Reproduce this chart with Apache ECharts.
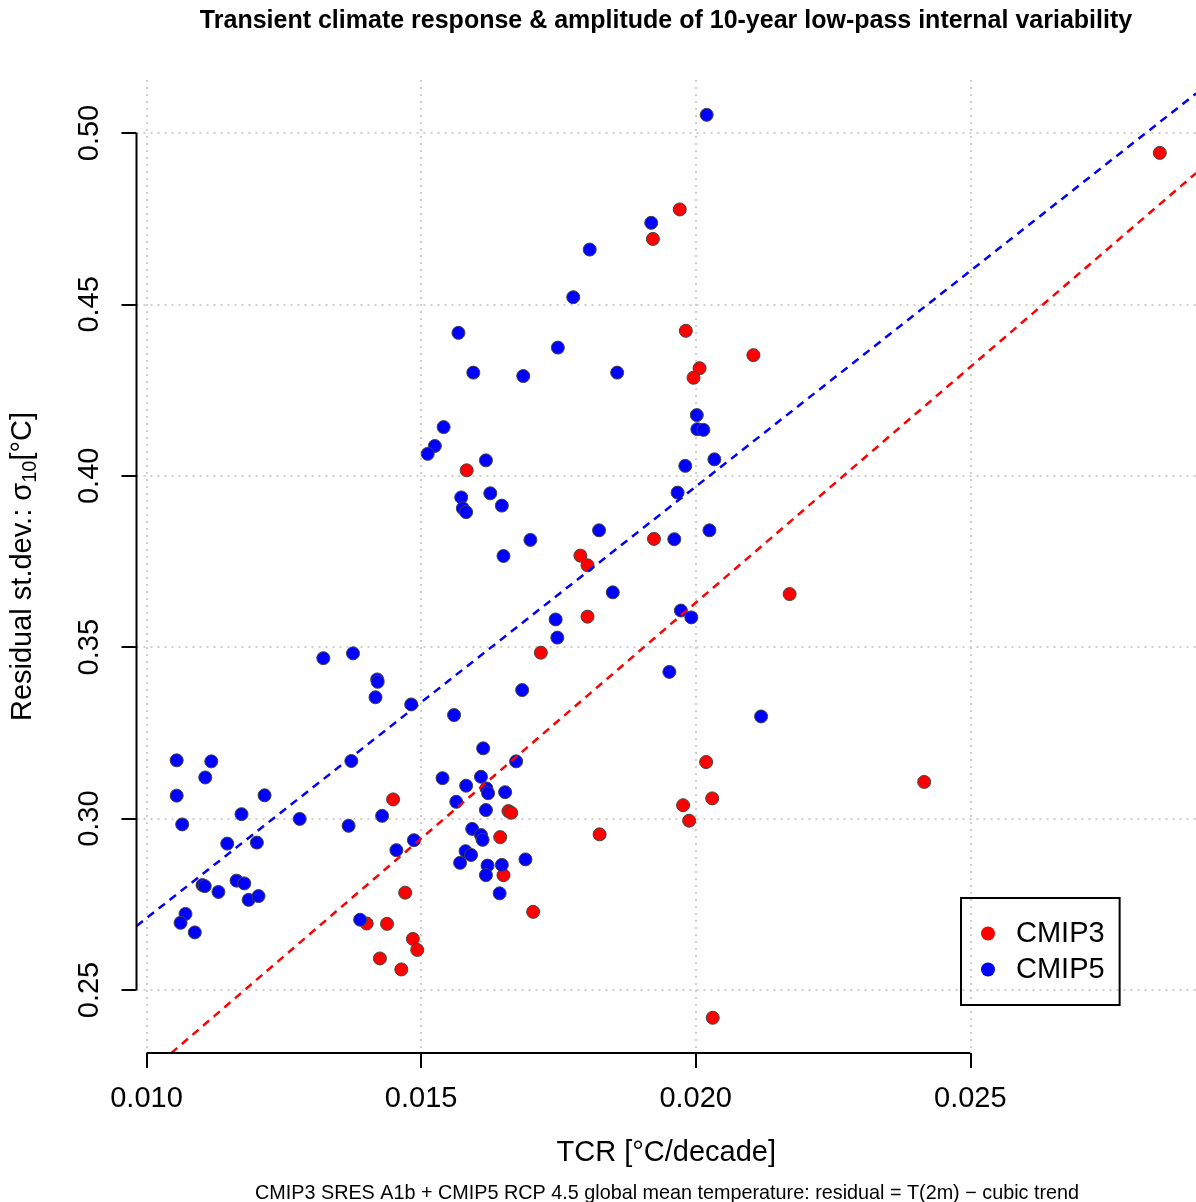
<!DOCTYPE html>
<html>
<head>
<meta charset="utf-8">
<script src="https://cdn.jsdelivr.net/npm/echarts@6/dist/echarts.min.js"></script>
<style>
  html, body { margin: 0; padding: 0; background: #fff; }
  #main { width: 1196px; height: 1202px; }
</style>
</head>
<body>
<div id="main"></div>
<script>
// visible plot window (data units)
const X_MIN = 0.009818, X_MAX = 0.029109;
const Y_MIN = 0.231622, Y_MAX = 0.515461;

const xTicks = [0.010, 0.015, 0.020, 0.025];
const yTicks = [0.25, 0.30, 0.35, 0.40, 0.45, 0.50];

// [TCR, sigma10]
const cmip3 = [
  [0.02845, 0.4942], [0.01971, 0.4777], [0.01922, 0.4691], [0.01982, 0.4423],
  [0.02105, 0.4352], [0.02007, 0.4314], [0.01996, 0.4286], [0.01583, 0.4016],
  [0.01924, 0.3816], [0.01790, 0.3767], [0.01803, 0.3739], [0.02171, 0.3655],
  [0.01803, 0.3589], [0.01718, 0.3484], [0.02019, 0.3165], [0.02030, 0.3059],
  [0.01977, 0.3039], [0.01988, 0.2994], [0.01825, 0.2954], [0.02031, 0.2419],
  [0.02416, 0.3107], [0.01449, 0.3056], [0.01659, 0.3022], [0.01664, 0.3017],
  [0.01644, 0.2946], [0.01650, 0.2835], [0.01471, 0.2784], [0.01704, 0.2728],
  [0.01401, 0.2694], [0.01438, 0.2693], [0.01485, 0.2649], [0.01493, 0.2617],
  [0.01425, 0.2592], [0.01464, 0.2560]
];

const cmip5 = [
  [0.02020, 0.5053], [0.01919, 0.4738], [0.01807, 0.4660], [0.01777, 0.4521],
  [0.01568, 0.4417], [0.01749, 0.4374], [0.01595, 0.4301], [0.01686, 0.4291],
  [0.01857, 0.4301], [0.02002, 0.4177], [0.02003, 0.4136], [0.02014, 0.4134],
  [0.01541, 0.4142], [0.01525, 0.4087], [0.01512, 0.4064], [0.01618, 0.4045],
  [0.02034, 0.4048], [0.01981, 0.4029], [0.01573, 0.3937], [0.01576, 0.3905],
  [0.01582, 0.3894], [0.01626, 0.3949], [0.01647, 0.3913], [0.01967, 0.3951],
  [0.01824, 0.3841], [0.01699, 0.3813], [0.01961, 0.3815], [0.02025, 0.3841],
  [0.01650, 0.3766], [0.01849, 0.3660], [0.01973, 0.3607], [0.01992, 0.3587],
  [0.01745, 0.3581], [0.01748, 0.3528], [0.01952, 0.3428], [0.01322, 0.3468],
  [0.01376, 0.3482], [0.01420, 0.3406], [0.01421, 0.3399], [0.01417, 0.3354],
  [0.01482, 0.3333], [0.01684, 0.3375], [0.01560, 0.3302], [0.02119, 0.3298],
  [0.01055, 0.3170], [0.01118, 0.3167], [0.01107, 0.3120], [0.01055, 0.3067],
  [0.01215, 0.3068], [0.01173, 0.3013], [0.01065, 0.2983], [0.01279, 0.2999],
  [0.01373, 0.3168], [0.01368, 0.2979], [0.01429, 0.3008], [0.01539, 0.3118],
  [0.01147, 0.2927], [0.01201, 0.2930], [0.01102, 0.2806], [0.01106, 0.2803],
  [0.01131, 0.2786], [0.01164, 0.2819], [0.01178, 0.2811], [0.01186, 0.2763],
  [0.01204, 0.2774], [0.01071, 0.2722], [0.01062, 0.2696], [0.01088, 0.2668],
  [0.01455, 0.2908], [0.01487, 0.2937], [0.01389, 0.2705], [0.01613, 0.3205],
  [0.01673, 0.3167], [0.01609, 0.3122], [0.01582, 0.3096], [0.01619, 0.3088],
  [0.01622, 0.3074], [0.01653, 0.3077], [0.01564, 0.3049], [0.01618, 0.3025],
  [0.01593, 0.2970], [0.01609, 0.2952], [0.01612, 0.2938], [0.01581, 0.2905],
  [0.01591, 0.2894], [0.01571, 0.2871], [0.01690, 0.2881], [0.01621, 0.2863],
  [0.01618, 0.2835], [0.01647, 0.2865], [0.01643, 0.2782]
];

// regression lines, end points
const fitCmip3 = [[0.01045, 0.2316], [0.02911, 0.4883]];
const fitCmip5 = [[0.00982, 0.2687], [0.02911, 0.5115]];

const FONT = '"Liberation Sans", Arial, Helvetica, sans-serif';

const pointSeries = (name, data, color) => ({
  name: name,
  type: 'scatter',
  data: data,
  symbol: 'circle',
  symbolSize: 13,
  itemStyle: { color: color, borderColor: '#444', borderWidth: 1, opacity: 1 },
  silent: true
});

const dashLine = (data, color) => ({
  type: 'line',
  data: data,
  showSymbol: false,
  symbol: 'none',
  silent: true,
  lineStyle: { color: color, width: 2.5, type: [8, 6] },
  z: 3
});

const axisLineSeries = (data) => ({
  type: 'line',
  data: data,
  symbol: 'none',
  silent: true,
  clip: false,
  lineStyle: { color: '#000', width: 2 },
  z: 4
});

let option = {
  animation: false,
  backgroundColor: '#fff',
  textStyle: { fontFamily: FONT },
  title: [
    {
      text: 'Transient climate response & amplitude of 10-year low-pass internal variability',
      left: 661, top: 4, textAlign: 'center',
      textStyle: { fontSize: 25, fontWeight: 'bold', color: '#000', fontFamily: FONT }
    },
    {
      text: 'CMIP3 SRES A1b + CMIP5 RCP 4.5 global mean temperature: residual = T(2m) − cubic trend',
      left: 662, top: 1179, textAlign: 'center',
      textStyle: { fontSize: 19.8, fontWeight: 'normal', color: '#000', fontFamily: FONT }
    }
  ],
  legend: {
    data: ['CMIP3', 'CMIP5'],
    orient: 'vertical',
    left: 961, top: 898,
    padding: [21, 15, 21, 20],
    itemWidth: 14, itemHeight: 14, itemGap: 7,
    borderColor: '#000', borderWidth: 2,
    icon: 'circle',
    itemStyle: { borderWidth: 0 },
    formatter: '{t|{name}}',
    textStyle: {
      fontSize: 29, color: '#000', fontFamily: FONT,
      rich: { t: { fontSize: 29, color: '#000', fontFamily: FONT, padding: [0, 0, 0, 16] } }
    }
  },
  grid: { left: 135, right: 0, top: 80, bottom: 149, containLabel: false },
  xAxis: {
    type: 'value',
    min: X_MIN, max: X_MAX,
    axisLine: { show: false },
    axisTick: { show: true, customValues: xTicks, length: 15, lineStyle: { color: '#000', width: 2 } },
    axisLabel: { customValues: xTicks, formatter: v => v.toFixed(3), fontSize: 29, color: '#000', margin: 31, fontFamily: FONT },
    splitLine: { show: true, lineStyle: { color: '#cfcfcf', type: [2, 5], width: 2 } },
    name: 'TCR [°C/decade]',
    nameLocation: 'middle', nameGap: 85,
    nameTextStyle: { fontSize: 29, color: '#000', fontFamily: FONT }
  },
  yAxis: {
    type: 'value',
    min: Y_MIN, max: Y_MAX,
    axisLine: { show: false },
    axisTick: { show: true, customValues: yTicks, length: 15, lineStyle: { color: '#000', width: 2 } },
    axisLabel: { customValues: yTicks, formatter: v => v.toFixed(2), rotate: 90, fontSize: 29, color: '#000', margin: 32, fontFamily: FONT },
    splitLine: { show: true, lineStyle: { color: '#cfcfcf', type: [2, 5], width: 2 } },
    name: '{a|Residual st.dev.: σ}{s|10}{a|[°C]}',
    nameLocation: 'middle', nameRotate: 90, nameGap: 96,
    nameTextStyle: {
      color: '#000', fontFamily: FONT,
      rich: {
        a: { fontSize: 29, lineHeight: 36, color: '#000', fontFamily: FONT },
        s: { fontSize: 20, lineHeight: 20, verticalAlign: 'bottom', color: '#000', fontFamily: FONT }
      }
    }
  },
  series: [
    axisLineSeries([[xTicks[0], Y_MIN], [xTicks[xTicks.length - 1], Y_MIN]]),
    axisLineSeries([[X_MIN, yTicks[0]], [X_MIN, yTicks[yTicks.length - 1]]]),
    dashLine(fitCmip3, '#ff0000'),
    dashLine(fitCmip5, '#0000ff'),
    pointSeries('CMIP3', cmip3, '#ff0000'),
    pointSeries('CMIP5', cmip5, '#0000ff')
  ]
};

let myChart = echarts.init(document.getElementById('main'), null, { renderer: 'canvas' });
myChart.setOption(option);
</script>
</body>
</html>
